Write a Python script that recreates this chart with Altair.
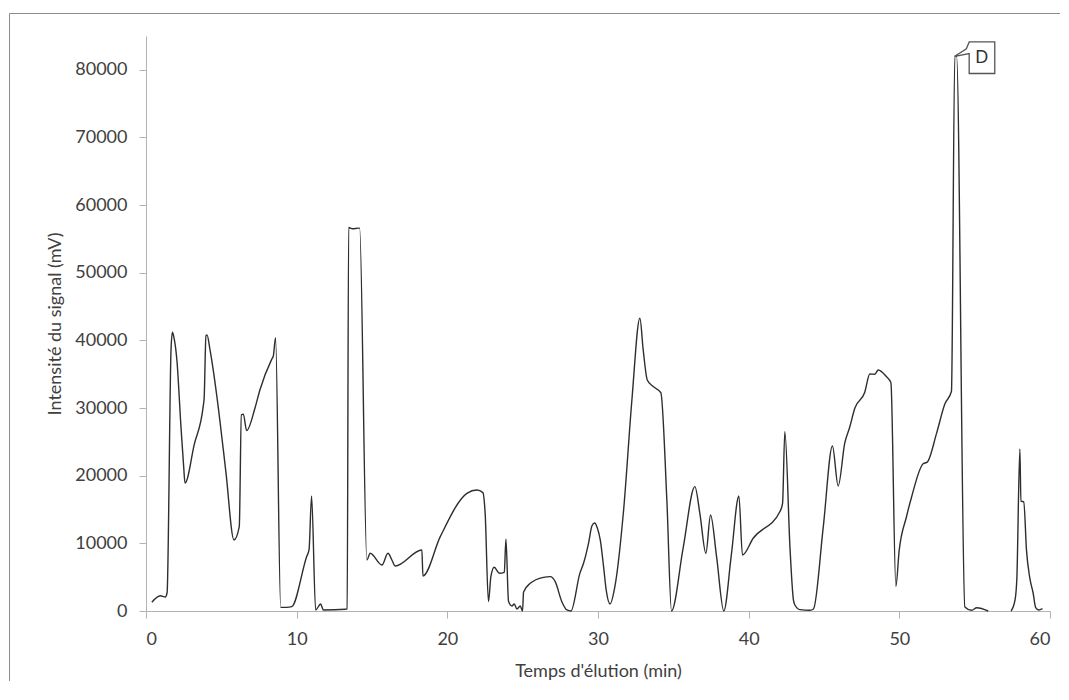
import altair as alt
import pandas as pd

# ---- data ----
time_a = [0.39, 0.95, 1.28, 1.40, 1.66, 1.75, 1.85, 2.05, 2.32, 2.50, 2.59, 3.20, 3.81, 3.86, 3.98, 4.05,
          4.25, 4.49, 4.82, 5.30, 5.84, 6.19, 6.33, 6.46, 6.68, 7.23, 7.56, 8.34, 8.45, 8.60, 8.94, 9.33,
          9.67, 10.66, 10.82, 10.99, 11.26, 11.59, 11.77, 13.25, 13.35, 13.45, 13.70, 14.10, 14.18,
          14.66, 14.88, 15.66, 16.06, 16.32, 16.54, 18.31, 18.38, 19.53, 21.30, 21.96, 22.36, 22.51,
          22.73, 22.89, 23.11, 23.46, 23.78, 23.89, 24.06, 24.29, 24.44, 24.62, 24.84, 24.99, 25.06,
          25.50, 26.38, 26.83, 27.16, 27.60, 27.94, 28.20, 28.80, 29.04, 29.37, 29.60, 29.78, 29.95,
          30.15, 30.37, 30.55, 30.80, 31.12, 31.70, 32.25, 32.78, 33.00, 33.27, 33.67, 34.17, 34.57,
          34.88, 35.65, 36.43, 36.76, 37.16, 37.47, 37.87, 38.35, 38.85, 39.35, 39.59, 40.30, 42.07, 42.25, 42.40,
          42.75, 42.97, 43.07, 43.40, 44.06, 44.30, 44.95, 45.56, 45.94, 46.38, 46.70, 47.05, 47.70, 48.04,
          48.37, 48.60, 49.15, 49.44, 49.77, 49.99, 50.47, 50.80, 51.58, 51.85, 52.47, 53.02, 53.46,
          53.68, 53.80, 54.35, 54.80, 55.14, 55.90]
signal_a = [1300, 2250, 2080, 2700, 38500, 41200, 40500, 37100, 27260, 21340, 18900, 24600, 30460, 31500, 40700, 40800,
            38600, 35200, 29700, 20600, 10500, 12460, 29000, 29100, 26660, 29970, 32680, 37200, 37700, 40400, 540, 540,
            640, 8030, 9020, 17000, 150, 1035, 150, 250, 300, 56700, 56500, 56600, 56600,
            7540, 8530, 6800, 8530, 7540, 6650, 9020, 5180, 10990, 17400, 17890, 17500, 14440,
            1380, 5070, 6460, 5570, 5700, 10600, 1450, 740, 1035, 300, 740, 0, 2800,
            4090, 4980, 5080, 4340, 1380, 150, 0, 5600, 7050, 10000, 12600, 13000, 12300,
            10500, 6560, 3000, 1040, 3600, 14930, 31200, 43270, 38600, 34150, 33170, 32280, 16400,
            0, 9300, 18380, 14440, 8530, 14200, 8030, 0, 8300, 17000, 8280, 10750, 14680, 15920, 26520,
            9000, 1630, 890, 200, 100, 300, 12400, 24400, 18480, 24840, 27120, 30000, 32300, 35040,
            35000, 35630, 34620, 33760, 3650, 8960, 13900, 16740, 21770, 22000, 26260, 30600, 32490,
            82000, 82000, 600, 100, 490, 0]

time_b = [57.42, 57.68, 57.80, 58.00, 58.07, 58.26, 58.44, 58.65, 58.88, 59.05, 59.25, 59.50]
signal_b = [0, 1630, 4800, 23960, 16200, 16160, 8960, 5000, 2660, 500, 150, 350]

x_ticks = [0, 10, 20, 30, 40, 50, 60]
y_ticks = [0, 10000, 20000, 30000, 40000, 50000, 60000, 70000, 80000]
annotation_label = "D"

df = pd.concat([
    pd.DataFrame({"t": time_a, "s": signal_a, "seg": "a"}),
    pd.DataFrame({"t": time_b, "s": signal_b, "seg": "b"}),
], ignore_index=True)

i_peak = max(range(len(signal_a)), key=lambda i: signal_a[i])
peak_df = pd.DataFrame({"t": [time_a[i_peak]], "s": [signal_a[i_peak]], "label": [annotation_label]})

FONT = "Lato"
TXT = "#404040"
AX = "#b3b3b3"

x_enc = alt.X("t:Q", scale=alt.Scale(domain=[0, 60], nice=False, zero=False),
              axis=alt.Axis(values=x_ticks, title="Temps d'élution (min)", format="d",
                            labelPadding=12, titlePadding=14))
y_enc = alt.Y("s:Q", scale=alt.Scale(domain=[0, 85000], nice=False),
              axis=alt.Axis(values=y_ticks, title="Intensité du signal (mV)", format="d",
                            labelPadding=12, titlePadding=10))

line = alt.Chart(df).mark_line(interpolate="monotone", color="#2e2e2e", strokeWidth=1.4).encode(
    x=x_enc, y=y_enc, detail="seg:N"
)

callout_path = "M0,0 L0.29,-0.19 L0.36,-0.36 L1,-0.36 L1,0.43 L0.36,0.43 L0.36,-0.07 Z"
callout = alt.Chart(peak_df).mark_point(
    shape=callout_path, size=6400, filled=True, fill="white", stroke="#555555",
    strokeWidth=1.3, opacity=1, fillOpacity=1
).encode(x="t:Q", y="s:Q")

callout_text = alt.Chart(peak_df).mark_text(
    font=FONT, fontSize=17, color="#303030", dx=27, dy=1.5, align="center", baseline="middle"
).encode(x="t:Q", y="s:Q", text="label:N")

border = alt.Chart(pd.DataFrame({"b": [0]})).mark_rect(
    fillOpacity=0, stroke="#8c8c8c", strokeWidth=1
).encode(x=alt.value(-136.5), x2=alt.value(940), y=alt.value(-22.5), y2=alt.value(720))

chart = alt.layer(border, line, callout, callout_text).properties(
    width=904, height=575,
    autosize=alt.AutoSizeParams(type="none"),
    padding={"left": 138, "top": 28, "right": 10, "bottom": 70},
    background="white",
).configure_view(stroke="transparent").configure_axis(
    grid=False, domainColor=AX, tickColor=AX, domainWidth=1, tickWidth=1, tickSize=7,
    labelFont=FONT, labelFontSize=18, labelColor=TXT,
    titleFont=FONT, titleFontSize=18, titleFontWeight="normal", titleColor=TXT,
)

chart.save("out.html", embed_options={"renderer": "svg", "actions": False})
